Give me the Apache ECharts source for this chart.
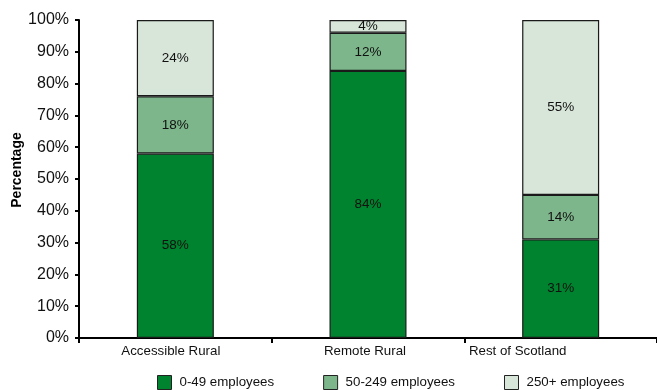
<!DOCTYPE html>
<html>
<head>
<meta charset="utf-8">
<script src="https://cdn.jsdelivr.net/npm/echarts@6/dist/echarts.min.js"></script>
<style>
  html, body { margin: 0; padding: 0; background: #fff; }
  #chart { width: 657px; height: 390px; }
</style>
</head>
<body>
<div id="chart"></div>
<script>
// Business size composition by area (percentage of employment)
const categories = ['Accessible Rural', 'Remote Rural', 'Rest of Scotland'];
const seriesNames = ['0-49 employees', '50-249 employees', '250+ employees'];
const small = [58, 84, 31];
const medium = [18, 12, 14];
const large = [24, 4, 55];
const yTicks = [0, 10, 20, 30, 40, 50, 60, 70, 80, 90, 100];

const colors = ['#00832e', '#7db68a', '#d8e6d9'];
const font = 'Liberation Sans, Arial, sans-serif';

// nudges for category labels (right padding shifts text left)
const labelPadRight = [9, 6, 86];

const chart = echarts.init(document.getElementById('chart'), null, { renderer: 'canvas' });

function makeSeries(name, values, idx) {
  return {
    name: name,
    type: 'bar',
    stack: 'total',
    barWidth: 77,
    data: values,
    itemStyle: { color: colors[idx], borderColor: '#1a1a1a', borderWidth: 1.2 },
    label: {
      show: true,
      position: 'inside',
      formatter: '{c}%',
      color: '#111',
      fontFamily: font,
      fontSize: 13.5
    },
    emphasis: { disabled: true }
  };
}

chart.setOption({
  animation: false,
  grid: { left: 79, top: 20, width: 587, height: 318 },
  graphic: [{
    type: 'text',
    x: 17,
    y: 170,
    rotation: Math.PI / 2,
    style: {
      text: 'Percentage',
      x: 0,
      y: 0,
      align: 'center',
      verticalAlign: 'middle',
      font: 'bold 14px Liberation Sans, Arial, sans-serif',
      fill: '#000'
    }
  }],
  legend: {
    data: seriesNames,
    left: 157,
    top: 375,
    padding: 0,
    itemWidth: 14,
    itemHeight: 14,
    itemGap: 49,
    icon: 'rect',
    textStyle: { fontFamily: font, fontSize: 13.3, color: '#111', padding: [0, 0, 0, 3], lineHeight: 14 },
    itemStyle: { borderColor: '#222', borderWidth: 1 }
  },
  xAxis: {
    type: 'category',
    data: categories.map((c, i) => ({ value: c, textStyle: { padding: [0, labelPadRight[i], 0, 0] } })),
    axisLine: { lineStyle: { color: '#000', width: 2 } },
    axisTick: { show: true, alignWithLabel: false, length: 5, lineStyle: { color: '#000', width: 2 } },
    axisLabel: { fontFamily: font, fontSize: 13.3, color: '#111', margin: 7 }
  },
  yAxis: {
    type: 'value',
    min: yTicks[0],
    max: yTicks[yTicks.length - 1],
    interval: 10,
    axisLine: { show: true, lineStyle: { color: '#000', width: 2 } },
    axisTick: { show: true, length: 4, lineStyle: { color: '#000', width: 2 } },
    splitLine: { show: false },
    axisLabel: { formatter: '{value}%', fontFamily: font, fontSize: 16, color: '#111', margin: 10 }
  },
  series: [
    makeSeries(seriesNames[0], small, 0),
    makeSeries(seriesNames[1], medium, 1),
    makeSeries(seriesNames[2], large, 2)
  ]
});
</script>
</body>
</html>
